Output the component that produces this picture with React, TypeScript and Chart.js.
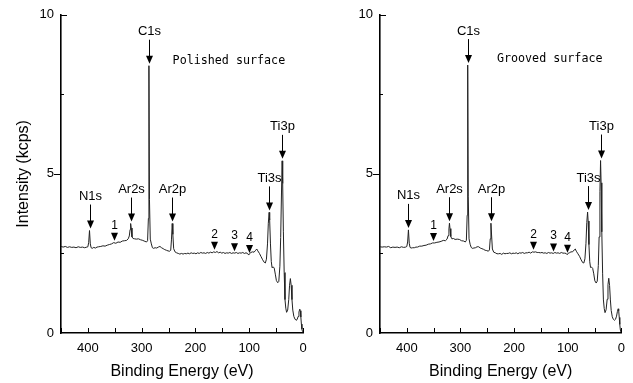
import React, { useEffect, useRef } from 'react';
import { Chart, registerables } from 'chart.js';

Chart.register(...registerables);

// Binding energy (eV) sample positions
const energies = [
  450, 446, 442, 438, 434, 430, 426, 422, 418, 414, 410, 406, 402, 400, 398.5, 397, 395.5, 394, 392, 389,
  386, 383, 380, 376, 372, 368, 364, 360, 356, 352, 348, 344, 340, 336, 332, 328, 325, 323, 321.5, 320.5,
  319.5, 318, 316, 313, 310, 306, 302, 298, 294, 291, 289, 287.5, 286.5, 285.5, 284, 282, 280, 278, 275, 272,
  269, 266, 263, 260, 257, 254, 251, 248, 246, 244.5, 243.2, 242, 240.5, 238, 235, 232, 229, 226, 223, 220,
  217, 214, 211, 208, 205, 202, 199, 196, 193, 190, 187, 184, 181, 178, 175, 172, 169, 166, 163, 160,
  157, 154, 151, 148, 145, 142, 139, 136, 133, 130, 127, 124, 121, 118, 115, 112, 109, 106, 103, 101,
  99, 97, 94, 91, 88, 86, 84, 81, 78, 75, 72, 70, 68, 66, 64.5, 63, 62, 60.5, 59, 57.5,
  55.5, 53.5, 51.5, 49.5, 47, 45, 43, 41.5, 40, 38.8, 37.8, 36.5, 35, 33.5, 32, 30.5, 28.5, 26.5, 25, 23.5,
  22, 20.5, 19, 17, 15, 13, 11, 9, 7.5, 6, 5, 4, 3, 2, 1, 0,
];

// Intensity (kcps), polished surface
const polished = [
  2.72, 2.70, 2.72, 2.69, 2.71, 2.69, 2.70, 2.68, 2.71, 2.69, 2.70, 2.68, 2.70, 2.71, 2.85, 3.22, 2.80, 2.68, 2.66, 2.69,
  2.67, 2.70, 2.71, 2.72, 2.74, 2.73, 2.76, 2.78, 2.80, 2.84, 2.82, 2.86, 2.85, 2.89, 2.90, 2.91, 2.96, 3.05, 3.25, 3.44,
  3.30, 3.02, 2.97, 2.96, 2.95, 2.96, 2.93, 2.91, 2.88, 2.86, 2.90, 3.60, 8.40, 4.20, 2.95, 2.80, 2.68, 2.66, 2.68, 2.67,
  2.70, 2.72, 2.68, 2.65, 2.62, 2.60, 2.58, 2.57, 2.60, 2.95, 3.44, 3.10, 2.65, 2.55, 2.52, 2.50, 2.48, 2.50, 2.48, 2.50,
  2.49, 2.51, 2.49, 2.52, 2.50, 2.51, 2.49, 2.52, 2.50, 2.53, 2.51, 2.52, 2.50, 2.53, 2.51, 2.54, 2.52, 2.55, 2.53, 2.56,
  2.52, 2.54, 2.51, 2.53, 2.50, 2.52, 2.51, 2.53, 2.50, 2.52, 2.51, 2.53, 2.50, 2.52, 2.51, 2.53, 2.50, 2.52, 2.50, 2.45,
  2.50, 2.53, 2.55, 2.54, 2.60, 2.64, 2.58, 2.50, 2.40, 2.30, 2.22, 2.20, 2.32, 2.80, 3.45, 3.79, 3.55, 2.80, 2.25, 2.05,
  2.08, 2.04, 1.85, 1.65, 1.58, 1.62, 2.10, 3.00, 4.40, 5.41, 4.70, 3.20, 1.90, 1.05, 0.78, 0.65, 0.72, 1.05, 1.50, 1.71,
  1.50, 1.05, 0.72, 0.52, 0.44, 0.40, 0.42, 0.52, 0.66, 0.75, 0.70, 0.50, 0.28, 0.12, 0.05, 0.02,
];

// Intensity (kcps), grooved surface
const grooved = [
  2.71, 2.70, 2.71, 2.70, 2.72, 2.68, 2.70, 2.69, 2.70, 2.68, 2.71, 2.69, 2.70, 2.72, 2.86, 3.24, 2.82, 2.69, 2.67, 2.68,
  2.68, 2.70, 2.70, 2.73, 2.73, 2.75, 2.76, 2.79, 2.80, 2.83, 2.83, 2.85, 2.86, 2.88, 2.91, 2.90, 2.95, 3.06, 3.27, 3.45,
  3.28, 3.03, 2.96, 2.97, 2.94, 2.95, 2.94, 2.90, 2.89, 2.86, 2.91, 3.70, 8.42, 4.30, 2.96, 2.79, 2.69, 2.66, 2.67, 2.68,
  2.71, 2.71, 2.67, 2.65, 2.63, 2.60, 2.59, 2.57, 2.61, 2.96, 3.45, 3.08, 2.64, 2.54, 2.52, 2.49, 2.49, 2.50, 2.47, 2.51,
  2.49, 2.50, 2.50, 2.52, 2.49, 2.51, 2.50, 2.52, 2.49, 2.52, 2.51, 2.53, 2.50, 2.52, 2.52, 2.54, 2.51, 2.55, 2.54, 2.55,
  2.53, 2.53, 2.52, 2.53, 2.51, 2.52, 2.50, 2.53, 2.51, 2.52, 2.50, 2.53, 2.51, 2.52, 2.50, 2.53, 2.51, 2.51, 2.50, 2.46,
  2.51, 2.52, 2.55, 2.55, 2.61, 2.64, 2.57, 2.49, 2.41, 2.30, 2.21, 2.20, 2.33, 2.82, 3.47, 3.80, 3.52, 2.78, 2.24, 2.06,
  2.07, 2.03, 1.86, 1.64, 1.57, 1.63, 2.12, 3.02, 4.45, 5.42, 4.72, 3.18, 1.88, 1.04, 0.77, 0.64, 0.73, 1.06, 1.52, 1.72,
  1.49, 1.04, 0.71, 0.51, 0.43, 0.40, 0.43, 0.53, 0.67, 0.76, 0.70, 0.49, 0.27, 0.11, 0.05, 0.02,
];

// Peak annotations
const peakNames = ['N1s', 'Ar2s', 'C1s', 'Ar2p', 'Ti3s', 'Ti3p'];
const peakEnergies = [397, 320.5, 286.5, 243.2, 63, 38.8];

// Numbered markers
const markNames = ['1', '2', '3', '4'];
const markEnergies = [352, 165, 128, 101];

const FONT = "'Liberation Sans', Arial, sans-serif";

function valueAt(e: number, vals: number[]): number {
  let best = -Infinity;
  for (let i = 0; i < energies.length; i++) {
    if (Math.abs(energies[i] - e) <= 1.2) best = Math.max(best, vals[i]);
  }
  if (best > -Infinity) return best;
  for (let i = 0; i < energies.length - 1; i++) {
    const a = energies[i];
    const b = energies[i + 1];
    if ((a - e) * (b - e) <= 0) {
      const t = (e - a) / (b - a);
      return vals[i] + t * (vals[i + 1] - vals[i]);
    }
  }
  return 0;
}

function makeAnnot(vals: number[], caption: string, capE: number, capI: number) {
  return {
    id: 'annot',
    afterDatasetsDraw(chart: any) {
      const { ctx, scales } = chart;
      const x = scales.x;
      const y = scales.y;
      const area = chart.chartArea;
      ctx.save();
      ctx.fillStyle = '#000';
      ctx.strokeStyle = '#000';
      ctx.lineWidth = 1;

      // inward / outward axis ticks
      x.ticks.forEach((t: any) => {
        const px = Math.round(x.getPixelForValue(t.value)) + 0.5;
        ctx.beginPath();
        ctx.moveTo(px, area.bottom);
        ctx.lineTo(px, area.bottom - 5);
        ctx.stroke();
      });
      y.ticks.forEach((t: any) => {
        const v = t.value;
        if (v === 0) return;
        const py = Math.round(y.getPixelForValue(v)) + 0.5;
        ctx.beginPath();
        if (v === 5) {
          ctx.moveTo(area.left, py);
          ctx.lineTo(area.left - 7, py);
        } else if (v === 10) {
          ctx.moveTo(area.left, py);
          ctx.lineTo(area.left + 6, py);
        } else {
          ctx.moveTo(area.left, py);
          ctx.lineTo(area.left + 3, py);
        }
        ctx.stroke();
      });

      // peak arrows
      ctx.font = `13px ${FONT}`;
      ctx.textAlign = 'center';
      ctx.textBaseline = 'alphabetic';
      peakNames.forEach((name, i) => {
        const e = peakEnergies[i];
        const px = Math.round(x.getPixelForValue(e)) + 0.5;
        const tip = y.getPixelForValue(valueAt(e, vals)) - 2;
        const tail = tip - 24;
        ctx.beginPath();
        ctx.moveTo(px, tail);
        ctx.lineTo(px, tip - 6);
        ctx.stroke();
        ctx.beginPath();
        ctx.moveTo(px - 3.5, tip - 8);
        ctx.lineTo(px + 3.5, tip - 8);
        ctx.lineTo(px, tip);
        ctx.closePath();
        ctx.fill();
        ctx.fillText(name, px, tail - 4.5);
      });

      // numbered markers
      ctx.font = `12px ${FONT}`;
      markNames.forEach((name, i) => {
        const e = markEnergies[i];
        const px = Math.round(x.getPixelForValue(e)) + 0.5;
        const tip = y.getPixelForValue(valueAt(e, vals)) - 2;
        ctx.beginPath();
        ctx.moveTo(px - 3.5, tip - 8);
        ctx.lineTo(px + 3.5, tip - 8);
        ctx.lineTo(px, tip);
        ctx.closePath();
        ctx.fill();
        ctx.fillText(name, px, tip - 12);
      });

      // caption
      ctx.font = `11.7px 'DejaVu Sans Mono', 'Liberation Mono', monospace`;
      ctx.textAlign = 'left';
      ctx.textBaseline = 'middle';
      ctx.fillText(caption, x.getPixelForValue(capE), y.getPixelForValue(capI));
      ctx.restore();
    },
  };
}

function makeChart(
  canvas: HTMLCanvasElement,
  vals: number[],
  opts: { caption: string; capE: number; capI: number; yWidth: number; padRight: number; yTitle: boolean }
) {
  const axisFont = { family: FONT, size: 13 };
  return new Chart(canvas, {
    type: 'line',
    data: {
      datasets: [
        {
          data: energies.map((e, i) => ({ x: e, y: vals[i] })),
          borderColor: '#222',
          borderWidth: 1,
          pointRadius: 0,
          tension: 0,
          fill: false,
        },
      ],
    },
    options: {
      responsive: false,
      animation: false,
      devicePixelRatio: 1,
      layout: { padding: { top: 13, right: opts.padRight, left: 0, bottom: 0 } },
      plugins: { legend: { display: false }, tooltip: { enabled: false } },
      scales: {
        x: {
          type: 'linear',
          reverse: true,
          min: 0,
          max: 450,
          afterFit: (s: any) => {
            s.height = 50;
          },
          grid: { display: false, drawTicks: false },
          border: { display: true, color: '#000', width: 1.6 },
          ticks: {
            stepSize: 50,
            autoSkip: false,
            maxRotation: 0,
            padding: 8,
            color: '#000',
            font: axisFont,
            callback: (v: any) => (Number(v) % 100 === 0 ? String(v) : ''),
          },
          title: {
            display: true,
            text: 'Binding Energy (eV)',
            color: '#000',
            font: { family: FONT, size: 16 },
            padding: { top: 0, bottom: 2 },
          },
        },
        y: {
          type: 'linear',
          min: 0,
          max: 10,
          afterFit: (s: any) => {
            s.width = opts.yWidth;
          },
          grid: { display: false, drawTicks: false },
          border: { display: true, color: '#000', width: 1.6 },
          ticks: {
            stepSize: 2.5,
            padding: 7,
            color: '#000',
            font: axisFont,
            callback: (v: any) => (Number(v) % 5 === 0 ? String(v) : ''),
          },
          title: {
            display: opts.yTitle,
            text: 'Intensity (kcps)',
            color: '#000',
            font: { family: FONT, size: 16 },
            padding: { top: 14, bottom: 0 },
          },
        },
      },
    } as any,
    plugins: [makeAnnot(vals, opts.caption, opts.capE, opts.capI)],
  });
}

export default function App() {
  const leftRef = useRef<HTMLCanvasElement>(null);
  const rightRef = useRef<HTMLCanvasElement>(null);

  useEffect(() => {
    const c1 = makeChart(leftRef.current!, polished, {
      caption: 'Polished surface',
      capE: 242.5,
      capI: 8.55,
      yWidth: 61,
      padRight: 13,
      yTitle: true,
    });
    const c2 = makeChart(rightRef.current!, grooved, {
      caption: 'Grooved surface',
      capE: 232,
      capI: 8.62,
      yWidth: 64,
      padRight: 10,
      yTitle: false,
    });
    return () => {
      c1.destroy();
      c2.destroy();
    };
  }, []);

  return (
    <div style={{ position: 'fixed', left: 0, top: 0, width: 633, height: 383, background: '#fff' }}>
      <canvas
        ref={leftRef}
        width={316}
        height={383}
        style={{ position: 'absolute', left: 0, top: 0, width: 316, height: 383 }}
      />
      <canvas
        ref={rightRef}
        width={317}
        height={383}
        style={{ position: 'absolute', left: 316, top: 0, width: 317, height: 383 }}
      />
    </div>
  );
}
